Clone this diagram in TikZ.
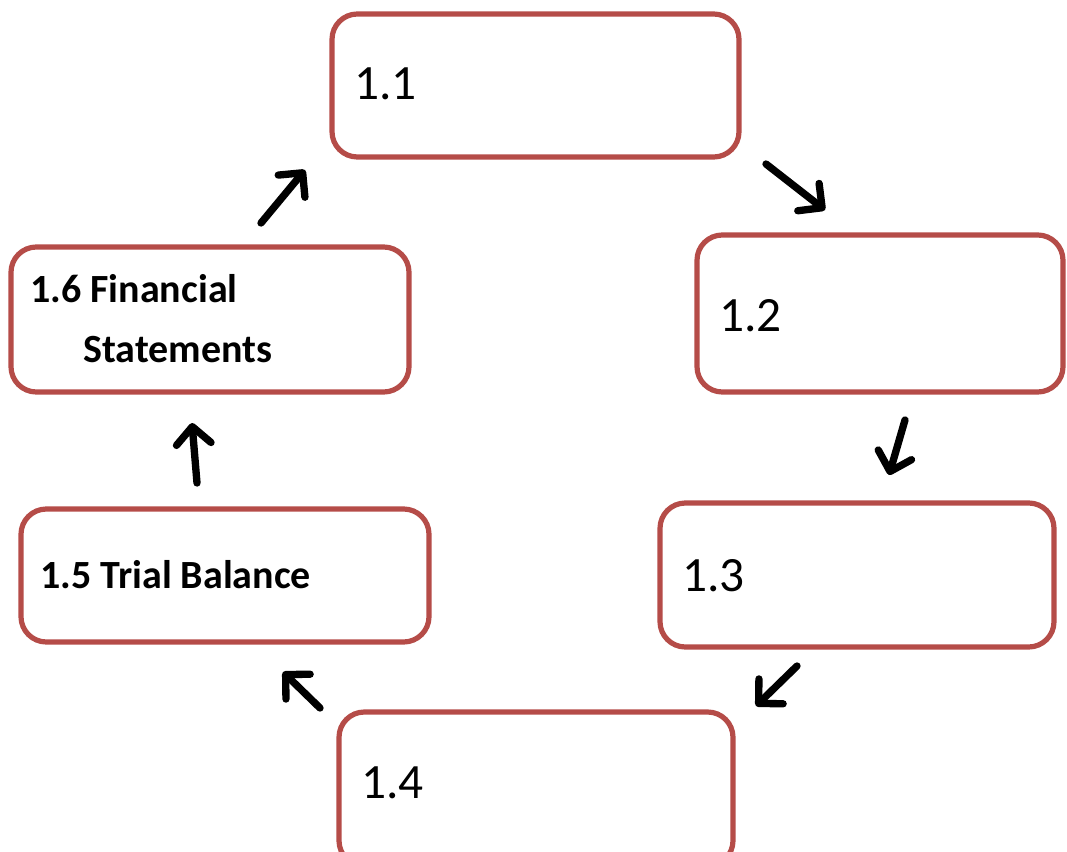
\documentclass[tikz,border=0pt]{standalone}
\usepackage{fontspec}
\setmainfont{Carlito}
\usetikzlibrary{arrows.meta}
\definecolor{boxred}{RGB}{181,76,72}

\begin{document}
\begin{tikzpicture}[
    x=0.75pt, y=-0.75pt,
    every node/.style={inner sep=0pt},
    stage/.style={rectangle, draw=boxred, line width=3.9pt, rounded corners=19pt},
    num/.style={anchor=base west, font=\fontsize{37}{40}\selectfont},
    title/.style={anchor=base west, font=\fontsize{30}{34}\selectfont\bfseries},
    line/.style={-{Straight Barb[length=13pt, width=26pt, round]}, line width=5.5pt, line cap=round}
]
\useasboundingbox (0,0) rectangle (1067,852);

% Stage boxes
\draw[stage] (332,14) rectangle (739,157);
\draw[stage] (697,235) rectangle (1063,392);
\draw[stage] (660,503) rectangle (1054,647);
\draw[stage] (339,712) rectangle (733,866);
\draw[stage] (21,509) rectangle (429,642);
\draw[stage] (11,247) rectangle (409,392);

% Labels
\node[num] (t1) at (354,100) {1.1};
\node[num] (t2) at (719,331) {1.2};
\node[num] (t3) at (682,591) {1.3};
\node[num] (t4) at (361,798) {1.4};
\node[title] (t5) at (40,588) {1.5 Trial Balance};
\node[title] (t6) at (30,302) {1.6 Financial};
\node[title] (t6b) at (83,362) {Statements};

% Arrow ends
\coordinate (a1s) at (766,164);
\coordinate (a1e) at (825,210);
\coordinate (a2s) at (905,420);
\coordinate (a2e) at (889,475);
\coordinate (a3s) at (797,666);
\coordinate (a3e) at (756,706);
\coordinate (a4s) at (320,708);
\coordinate (a4e) at (283,672);
\coordinate (a5s) at (197,483);
\coordinate (a5e) at (192,423);
\coordinate (a6s) at (261,223);
\coordinate (a6e) at (305,170);

% Cycle arrows
\draw[line] (a1s) -- (a1e);
\draw[line] (a2s) -- (a2e);
\draw[line] (a3s) -- (a3e);
\draw[line] (a4s) -- (a4e);
\draw[line] (a5s) -- (a5e);
\draw[line] (a6s) -- (a6e);

\end{tikzpicture}
\end{document}
